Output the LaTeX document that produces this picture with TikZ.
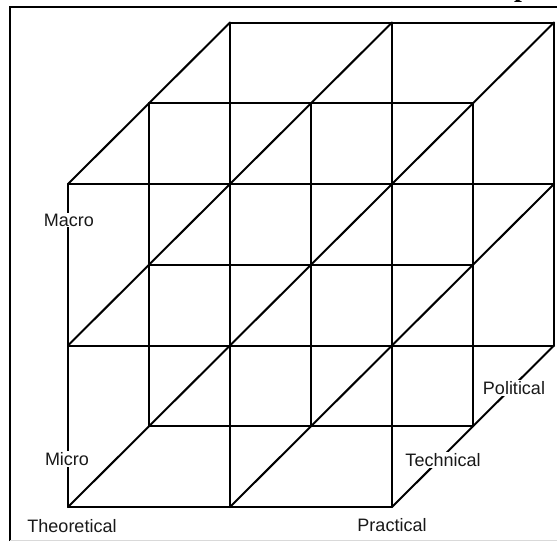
\documentclass[tikz,border=0pt]{standalone}
\usepackage{fontspec}
\setmainfont{Liberation Sans}
\newfontfamily\headserif{Liberation Serif}
\begin{document}
\begin{tikzpicture}[x=1pt,y=-1pt,
  cubeline/.style={line width=2pt,line cap=round,line join=round},
  framebox/.style={line width=2.6pt},
  lbl/.style={font=\fontsize{18}{20}\selectfont,fill=white,inner sep=1pt,text=black!90}]
\useasboundingbox (0,0) rectangle (557,541);
\clip (0,0) rectangle (557,541);
% frame
\draw[framebox] (10,541) -- (10,7) -- (560,7);
\draw[black!15,line width=0.8pt] (10,540) -- (557,540);
% cut-off heading letter
\node[anchor=base west,inner sep=0pt,font=\headserif\bfseries\fontsize{28}{28}\selectfont] (hd) at (514,-4) {p};
% lattice coordinates
\foreach \i in {0,1,2}{
  \foreach \j in {0,1,2}{
    \foreach \k in {0,1,2}{
      \coordinate (p-\i-\j-\k) at ({68+162*\i+81*\k},{507-161.5*\j-80.75*\k});
    }
  }
}
% lines along x, y and depth
\foreach \a in {0,1,2}{
  \foreach \b in {0,1,2}{
    \draw[cubeline] (p-0-\a-\b) -- (p-2-\a-\b);
    \draw[cubeline] (p-\a-0-\b) -- (p-\a-2-\b);
    \draw[cubeline] (p-\a-\b-0) -- (p-\a-\b-2);
  }
}
% labels
\node[lbl] (macro) at (69,220) {Macro};
\node[lbl] (micro) at (67,459) {Micro};
\node[lbl] (theo) at (72,526) {Theoretical};
\node[lbl] (prac) at (392,525) {Practical};
\node[lbl] (tech) at (443,460) {Technical};
\node[lbl] (poli) at (514,388) {Political};
\end{tikzpicture}
\end{document}
